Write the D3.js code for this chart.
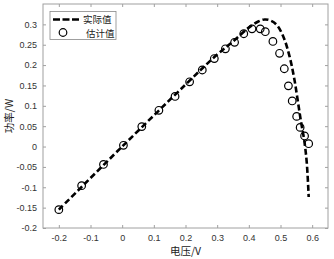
<!DOCTYPE html>
<html><head><meta charset="utf-8">
<script src="https://cdn.jsdelivr.net/npm/d3@7"></script>
<style>body{margin:0;background:#fff}</style>
</head><body>
<svg id="c" width="334" height="259"></svg>
<script>
const xTicks = [-0.2,-0.1,0,0.1,0.2,0.3,0.4,0.5,0.6];
const yTicks = [-0.2,-0.15,-0.1,-0.05,0,0.05,0.1,0.15,0.2,0.25,0.3];
const actualX = [-0.2,0,0.2,0.3,0.35,0.4,0.43,0.45,0.47,0.49,0.51,0.525,0.535,0.545,0.555,0.565,0.575,0.583,0.589];
const actualY = [-0.155,0,0.152,0.226,0.258,0.292,0.307,0.312,0.309,0.297,0.268,0.232,0.2,0.16,0.11,0.06,0.015,-0.04,-0.124];
const estX = [-0.2,-0.128,-0.059,0.004,0.062,0.116,0.167,0.213,0.253,0.291,0.326,0.355,0.384,0.41,0.436,0.452,0.476,0.497,0.512,0.525,0.537,0.551,0.562,0.576,0.589];
const estY = [-0.155,-0.096,-0.044,0.003,0.049,0.089,0.123,0.159,0.188,0.216,0.240,0.256,0.277,0.289,0.289,0.282,0.258,0.229,0.191,0.149,0.112,0.074,0.047,0.026,0.007];
const legendLabels = ["实际值","估计值"];

const svg = d3.select("#c");
const L=43, R=328, T=4, B=228;
const x = d3.scaleLinear().domain([-0.25,0.65]).range([L,R]);
const y = d3.scaleLinear().domain([-0.2,0.35]).range([B,T]);
const axisCol="#a0a0a0", txtCol="#333";
const fnt="'Liberation Sans', Arial, sans-serif";

svg.append("rect").attr("x",L).attr("y",T).attr("width",R-L).attr("height",B-T)
  .attr("fill","#fff").attr("stroke",axisCol).attr("stroke-width",1);

function styleAxis(g, showLabels){
  g.select(".domain").remove();
  g.selectAll(".tick line").attr("stroke",axisCol);
  g.selectAll(".tick text").attr("fill",txtCol).style("font-family",fnt).style("font-size","9px");
  if(!showLabels) g.selectAll(".tick text").remove();
}
const fmt = d => d===0 ? "0" : String(+d.toFixed(2));
svg.append("g").attr("transform",`translate(0,${B})`)
  .call(d3.axisBottom(x).tickValues(xTicks).tickSizeInner(-3).tickSizeOuter(0).tickPadding(7).tickFormat(fmt))
  .call(g=>styleAxis(g,true));
svg.append("g").attr("transform",`translate(0,${T})`)
  .call(d3.axisTop(x).tickValues(xTicks).tickSizeInner(-3).tickSizeOuter(0))
  .call(g=>styleAxis(g,false));
svg.append("g").attr("transform",`translate(${L},0)`)
  .call(d3.axisLeft(y).tickValues(yTicks).tickSizeInner(-3).tickSizeOuter(0).tickPadding(6).tickFormat(fmt))
  .call(g=>styleAxis(g,true));
svg.append("g").attr("transform",`translate(${R},0)`)
  .call(d3.axisRight(y).tickValues(yTicks).tickSizeInner(-3).tickSizeOuter(0))
  .call(g=>styleAxis(g,false));

const actual = actualX.map((v,i)=>[v,actualY[i]]);
const est = estX.map((v,i)=>[v,estY[i]]);

svg.append("path").datum(actual)
  .attr("d", d3.line().x(d=>x(d[0])).y(d=>y(d[1])).curve(d3.curveCatmullRom.alpha(0.5)))
  .attr("fill","none").attr("stroke","#000").attr("stroke-width",2.6).attr("stroke-dasharray","6,3");

svg.selectAll("circle.est").data(est).join("circle").attr("class","est")
  .attr("cx",d=>x(d[0])).attr("cy",d=>y(d[1])).attr("r",3.8)
  .attr("fill","none").attr("stroke","#000").attr("stroke-width",1.2);

// legend
const lg = svg.append("g");
lg.append("rect").attr("x",50).attr("y",11.5).attr("width",66).attr("height",28)
  .attr("fill","#fff").attr("stroke","#888").attr("stroke-width",0.8);
lg.append("line").attr("x1",53).attr("x2",81).attr("y1",19.5).attr("y2",19.5)
  .attr("stroke","#000").attr("stroke-width",2.6).attr("stroke-dasharray","7,2.5");
lg.append("circle").attr("cx",63).attr("cy",32.5).attr("r",3.8).attr("fill","none").attr("stroke","#000").attr("stroke-width",1.2);
lg.selectAll("text").data(legendLabels).join("text")
  .attr("x",(d,i)=>i===0?83:86).attr("y",(d,i)=>i===0?22.5:36.5)
  .text(d=>d).attr("fill","#222").style("font-family","'Noto Sans CJK SC'").style("font-size","9.5px");

svg.append("text").attr("x",(L+R)/2).attr("y",255).attr("text-anchor","middle")
  .text("电压/V").attr("fill","#222").style("font-family","'Noto Sans CJK SC'").style("font-size","10.5px");
svg.append("text").attr("transform",`translate(13,${(T+B)/2}) rotate(-90)`).attr("text-anchor","middle")
  .text("功率/W").attr("fill","#222").style("font-family","'Noto Sans CJK SC'").style("font-size","10.5px");
</script>
</body></html>
